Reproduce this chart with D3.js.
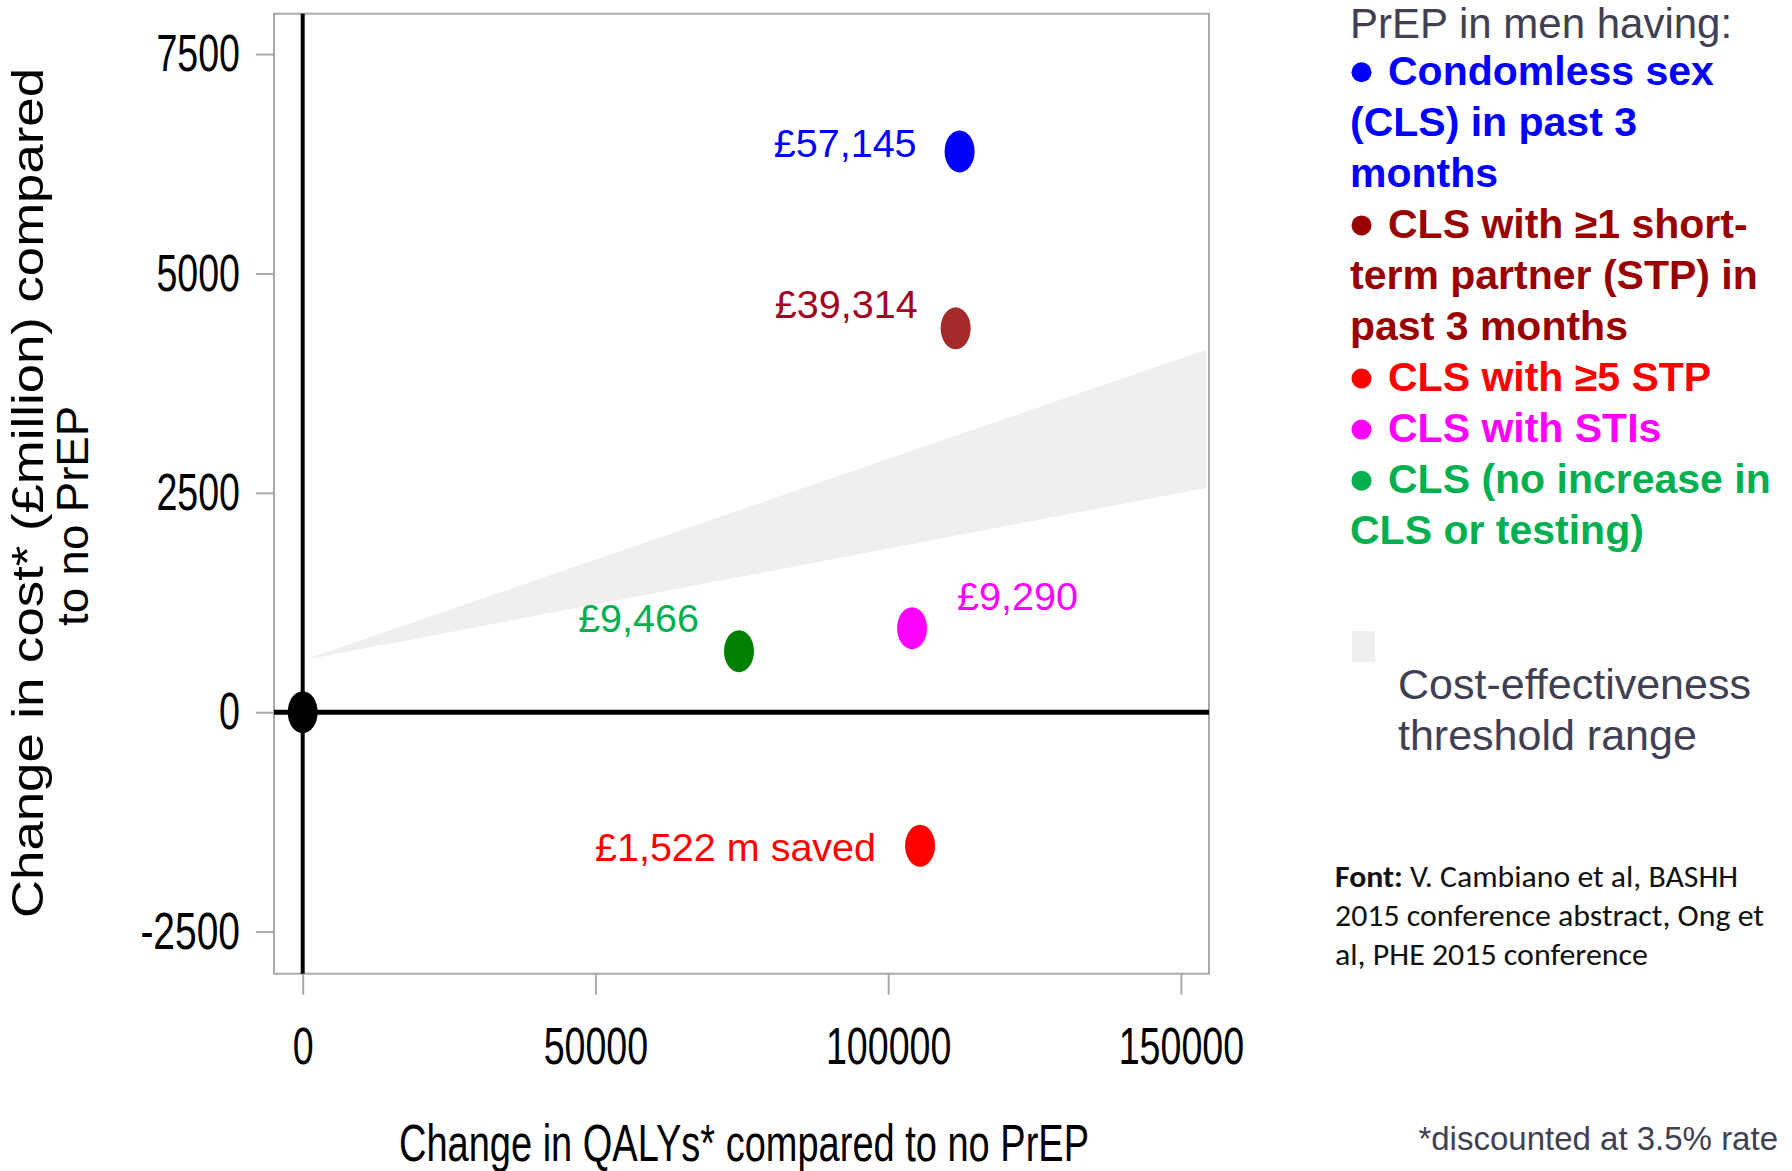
<!DOCTYPE html>
<html><head><meta charset="utf-8">
<script src="https://cdn.jsdelivr.net/npm/d3@7"></script>
<style>body{margin:0;background:#fff} svg{display:block}</style>
</head><body>
<svg id="c" width="1792" height="1171"></svg>
<script>
// ---------- data ----------
const xDomain = [-4900, 154800];
const yDomain = [-2980, 7960];
const xTicks = [0, 50000, 100000, 150000];
const yTicks = [-2500, 0, 2500, 5000, 7500];
const scenarios = ["CLS in past 3 months", "CLS with >=1 STP", "CLS with >=5 STP", "CLS with STIs", "CLS (no increase)"];
const qalys = [112200, 111530, 105450, 104080, 74520];
const costs = [6390, 4375, -1522, 957, 695];
const icerLabels = ["£57,145", "£39,314", "£1,522 m saved", "£9,290", "£9,466"];
const originQaly = 0, originCost = 0;
const thresholdX = [0, 154300];
const thresholdLow = [592, 2556];
const thresholdHigh = [592, 4131];
const legendTitle = "PrEP in men having:";
const legendEntries = [
  ["Condomless sex", "(CLS) in past 3", "months"],
  ["CLS with ≥1 short-", "term partner (STP) in", "past 3 months"],
  ["CLS with ≥5 STP"],
  ["CLS with STIs"],
  ["CLS (no increase in", "CLS or testing)"]
];
const thresholdLegend = ["Cost-effectiveness", "threshold range"];
const xTitle = "Change in QALYs* compared to no PrEP";
const yTitle = ["Change in cost* (£million) compared", "to no PrEP"];
const sourceLines = [["Font:", " V. Cambiano et al, BASHH"], ["", "2015 conference abstract, Ong et"], ["", "al, PHE 2015 conference"]];
const footnote = "*discounted at 3.5% rate";

// ---------- styles ----------
const pointColors = ["#0000ff", "#a52a2a", "#ff0000", "#ff00ff", "#008000"];
const labelColors = ["#0000ff", "#a50021", "#ff0000", "#ff00ff", "#00b050"];
const legendColors = ["#0000ff", "#990000", "#ff0000", "#ff00ff", "#00b050"];
const labelLayout = [
  {dx: -43, dy: 6, anchor: "end"},
  {dx: -38, dy: -10, anchor: "end"},
  {dx: -44, dy: 15, anchor: "end"},
  {dx: 45, dy: -18, anchor: "start"},
  {dx: -40, dy: -19, anchor: "end"}
];
const sourceWidths = [403, 429, 313];
const gray = "#404052";
const narrow = "'Liberation Sans Narrow','Arial Narrow','Liberation Sans',Arial,sans-serif";
const sans = "'Liberation Sans',Arial,Helvetica,sans-serif";

const svg = d3.select("#c");
const x = d3.scaleLinear().domain(xDomain).range([274, 1209]);
const y = d3.scaleLinear().domain(yDomain).range([973.7, 13.7]);
const [L, R] = x.range();
const [B, T] = y.range();

// frame
svg.append("rect").attr("x", L).attr("y", T).attr("width", R - L).attr("height", B - T)
  .attr("fill", "none").attr("stroke", "#a6aaae").attr("stroke-width", 2);

// axes
const fmt = d => String(d);
const yAxis = svg.append("g").attr("transform", `translate(${L},0)`)
  .call(d3.axisLeft(y).tickValues(yTicks).tickSize(18).tickPadding(16).tickFormat(fmt));
const xAxis = svg.append("g").attr("transform", `translate(0,${B})`)
  .call(d3.axisBottom(x).tickValues(xTicks).tickSize(21).tickPadding(32).tickFormat(fmt));
[yAxis, xAxis].forEach(g => {
  g.select(".domain").remove();
  g.selectAll(".tick line").attr("stroke", "#a6aaae").attr("stroke-width", 2);
  g.selectAll(".tick text").attr("fill", "#000").attr("font-family", narrow).attr("font-size", 52)
    .attr("lengthAdjust", "spacingAndGlyphs")
    .attr("textLength", function(d) { const s = fmt(d); return s.replace("-", "").length * 20.9 + (s.includes("-") ? 16 : 0); });
});

// threshold band
const band = thresholdX.map((v, i) => ({x: v, lo: thresholdLow[i], hi: thresholdHigh[i]}));
svg.append("path").datum(band)
  .attr("d", d3.area().x(d => x(d.x)).y0(d => y(d.lo)).y1(d => y(d.hi)))
  .attr("fill", "#efefef");

// zero lines
svg.append("line").attr("x1", L).attr("x2", R).attr("y1", y(0)).attr("y2", y(0))
  .attr("stroke", "#000").attr("stroke-width", 5);
svg.append("line").attr("x1", x(0)).attr("x2", x(0)).attr("y1", T).attr("y2", B)
  .attr("stroke", "#000").attr("stroke-width", 4);

// origin
svg.append("ellipse").attr("cx", x(originQaly)).attr("cy", y(originCost)).attr("rx", 15).attr("ry", 21).attr("fill", "#000");

// points
const pts = scenarios.map((s, i) => ({s, q: qalys[i], c: costs[i], lab: icerLabels[i], pc: pointColors[i], lc: labelColors[i], lay: labelLayout[i]}));
svg.selectAll(".pt").data(pts).join("ellipse").attr("class", "pt")
  .attr("cx", d => x(d.q)).attr("cy", d => y(d.c)).attr("rx", 15).attr("ry", 21).attr("fill", d => d.pc);
svg.selectAll(".plab").data(pts).join("text").attr("class", "plab")
  .attr("x", d => x(d.q) + d.lay.dx).attr("y", d => y(d.c) + d.lay.dy)
  .attr("text-anchor", d => d.lay.anchor).attr("fill", d => d.lc)
  .attr("font-family", sans).attr("font-size", 39.5).text(d => d.lab);

// axis titles
svg.append("text").attr("x", 744).attr("y", 1161).attr("text-anchor", "middle")
  .attr("font-family", narrow).attr("font-size", 52).attr("fill", "#000")
  .attr("textLength", 690).attr("lengthAdjust", "spacingAndGlyphs").text(xTitle);
const yT = [{t: yTitle[0], bx: 43, cy: 493, len: 850}, {t: yTitle[1], bx: 88, cy: 516, len: 220}];
yT.forEach(o => {
  svg.append("text").attr("transform", `translate(${o.bx},${o.cy}) rotate(-90)`)
    .attr("text-anchor", "middle").attr("font-family", sans).attr("font-size", 44).attr("fill", "#000")
    .attr("textLength", o.len).attr("lengthAdjust", "spacingAndGlyphs").text(o.t);
});

// legend
const lx = 1350, lstep = 51.05, ly0 = 35.5;
svg.append("text").attr("x", lx).attr("y", ly0 + 2.5).attr("font-family", sans).attr("font-size", 42)
  .attr("fill", gray).text(legendTitle);
let line = 1;
legendEntries.forEach((ent, i) => {
  ent.forEach((t, j) => {
    const by = 33.7 + line * lstep;
    if (j === 0) {
      svg.append("circle").attr("cx", 1361.5).attr("cy", by - 12.5).attr("r", 10).attr("fill", legendColors[i]);
    }
    svg.append("text").attr("x", j === 0 ? 1388 : lx).attr("y", by).attr("font-family", sans)
      .attr("font-size", 41).attr("font-weight", "bold").attr("fill", legendColors[i]).text(t);
    line++;
  });
});

// threshold legend
svg.append("rect").attr("x", 1352).attr("y", 631).attr("width", 23).attr("height", 31).attr("fill", "#efefef");
thresholdLegend.forEach((t, i) => {
  svg.append("text").attr("x", 1398).attr("y", 699 + i * 50.5).attr("font-family", sans).attr("font-size", 43)
    .attr("fill", gray).text(t);
});

// source
sourceLines.forEach((ln, i) => {
  const t = svg.append("text").attr("x", 1335).attr("y", 887 + i * 38.8)
    .attr("font-family", "Carlito, Calibri, Lato, 'Open Sans', sans-serif").attr("font-size", 30).attr("fill", "#111")
    .attr("textLength", sourceWidths[i]).attr("lengthAdjust", "spacingAndGlyphs");
  if (ln[0]) t.append("tspan").attr("font-weight", "bold").text(ln[0]);
  t.append("tspan").text(ln[1]);
});

// footnote
svg.append("text").attr("x", 1778).attr("y", 1150).attr("text-anchor", "end").attr("font-family", sans)
  .attr("font-size", 33).attr("fill", gray).text(footnote);
</script>
</body></html>
